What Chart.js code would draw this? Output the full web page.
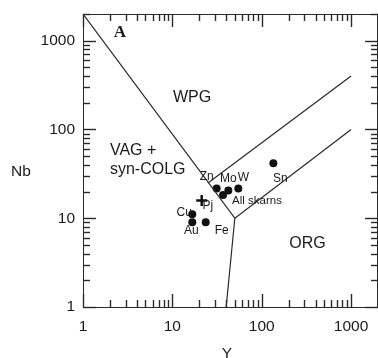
<!DOCTYPE html>
<html><head><meta charset="utf-8">
<script src="https://cdn.jsdelivr.net/npm/chart.js@4"></script>
<style>html,body{margin:0;padding:0;background:#fff;}canvas{display:block;}</style>
</head><body>
<canvas id="c" width="378" height="358"></canvas>
<script>
// ---- data ----
const samples  = ['Zn', 'Mo', 'W', 'All skarns', 'Sn', 'Cu', 'Au', 'Fe'];
const sampleY  = [31.3, 42.3, 54.7, 36.9, 135, 16.7, 16.7, 23.6];
const sampleNb = [21.7, 20.5, 21.7, 18.3, 41.6, 11.1, 9.0, 9.0];
const pjLabel = ['Pj'];
const pjY  = [21.3];
const pjNb = [15.8];
const xTickValues = [1, 10, 100, 1000];
const yTickValues = [1, 10, 100, 1000];
// field boundaries (Pearce et al. 1984)
const vagWpgY  = [1, 50, 40];
const vagWpgNb = [2000, 10, 1];
const wpgOrgY  = [25, 1000];
const wpgOrgNb = [25, 400];
const vagOrgY  = [50, 1000];
const vagOrgNb = [10, 100];
const fieldNames = ['WPG', 'VAG +', 'syn-COLG', 'ORG'];
const fieldY  = [16.6, 2.0, 2.0, 325];
const fieldNb = [226, 57.3, 35.0, 5.22];

// ---- label styling (pixel offsets from each point) ----
const sampleLabelStyle = {
  'Zn': {dx: -10, dy: -12, align: 'center'},
  'Mo': {dx: 0, dy: -12, align: 'center'},
  'W': {dx: 5, dy: -11, align: 'center'},
  'All skarns': {dx: 9, dy: 6, align: 'left'},
  'Sn': {dx: 7, dy: 15, align: 'center'},
  'Cu': {dx: -8, dy: -2, align: 'center'},
  'Au': {dx: -1, dy: 8, align: 'center'},
  'Fe': {dx: 16, dy: 8, align: 'center'},
  'Pj': {dx: 6, dy: 5, align: 'center'}
};
const fieldAlign = ['center', 'left', 'left', 'center'];

const zip = (xs, ys) => xs.map((x, i) => ({x: x, y: ys[i]}));
const LINE = '#2a2a2a';
const MINOR_FACTORS = [1, 2, 3, 4, 5, 6, 7, 8, 9];

const overlay = {
  id: 'overlay',
  afterDraw(chart) {
    const ctx = chart.ctx, xs = chart.scales.x, ys = chart.scales.y;
    const a = chart.chartArea;
    ctx.save();
    ctx.fillStyle = LINE;
    const L = Math.round(a.left), R = Math.round(a.right), T = Math.round(a.top), B = Math.round(a.bottom);
    // frame top & right
    ctx.fillRect(L, T, R - L, 1);
    ctx.fillRect(R - 1, T, 1, B - T);
    // inward ticks on all four sides
    xTickValues.forEach(d => {
      MINOR_FACTORS.forEach(m => {
        const v = d * m;
        const len = m === 1 ? 13 : 7;
        if (v <= 2000) {
          const px = Math.round(xs.getPixelForValue(v));
          ctx.fillRect(px - 0.2, B - len, 1.4, len);
          ctx.fillRect(px - 0.2, T, 1.4, len);
          const py = Math.round(ys.getPixelForValue(v));
          ctx.fillRect(L, py - 0.2, len, 1.4);
          ctx.fillRect(R - len, py - 0.2, len, 1.4);
        }
      });
    });
    ctx.fillStyle = '#1a1a1a';
    ctx.textBaseline = 'middle';
    // sample labels
    const allNames = samples.concat(pjLabel);
    const allY = sampleY.concat(pjY), allNb = sampleNb.concat(pjNb);
    allNames.forEach((n, i) => {
      const st = sampleLabelStyle[n];
      ctx.font = (n === 'All skarns' ? '11.5px' : '12px') + ' "Liberation Sans", Arial, sans-serif';
      ctx.textAlign = st.align;
      ctx.fillText(n, xs.getPixelForValue(allY[i]) + st.dx, ys.getPixelForValue(allNb[i]) + st.dy);
    });
    // field labels
    ctx.font = '16px "Liberation Sans", Arial, sans-serif';
    fieldNames.forEach((n, i) => {
      ctx.textAlign = fieldAlign[i];
      ctx.fillText(n, xs.getPixelForValue(fieldY[i]), ys.getPixelForValue(fieldNb[i]));
    });
    // panel letter
    ctx.font = 'bold 17px "Liberation Serif", "DejaVu Serif", serif';
    ctx.textAlign = 'center';
    ctx.fillText('A', a.left + 37, a.top + 19);
    // axis titles
    ctx.font = '15.5px "Liberation Sans", Arial, sans-serif';
    ctx.fillText('Nb', 21, 172);
    ctx.fillText('Y', 227, 354);
    ctx.restore();
  }
};

const tickFont = {family: '"Liberation Sans", Arial, sans-serif', size: 15.5};

new Chart(document.getElementById('c'), {
  type: 'scatter',
  data: {
    datasets: [
      {type: 'line', data: zip(vagWpgY, vagWpgNb), borderColor: LINE, borderWidth: 1.2, pointRadius: 0, pointHoverRadius: 0, fill: false, tension: 0},
      {type: 'line', data: zip(wpgOrgY, wpgOrgNb), borderColor: LINE, borderWidth: 1.2, pointRadius: 0, pointHoverRadius: 0, fill: false, tension: 0},
      {type: 'line', data: zip(vagOrgY, vagOrgNb), borderColor: LINE, borderWidth: 1.2, pointRadius: 0, pointHoverRadius: 0, fill: false, tension: 0},
      {data: zip(sampleY, sampleNb), pointRadius: 4, pointBackgroundColor: '#111', pointBorderColor: '#111', pointBorderWidth: 0},
      {data: zip(pjY, pjNb), pointStyle: 'cross', pointRadius: 5.5, pointBorderColor: '#111', pointBorderWidth: 2.5}
    ]
  },
  options: {
    responsive: false, animation: false, devicePixelRatio: 1,
    layout: {autoPadding: false, padding: {left: 0, right: 0, top: 14, bottom: 0}},
    plugins: {legend: {display: false}, tooltip: {enabled: false}},
    scales: {
      x: {
        type: 'logarithmic', min: 1, max: 2000, position: 'bottom',
        grid: {display: false, drawTicks: false},
        border: {display: true, color: LINE, width: 1},
        ticks: {font: tickFont, color: '#1a1a1a', padding: 10, autoSkip: false, maxRotation: 0, callback: v => String(v)},
        afterBuildTicks: s => { s.ticks = xTickValues.map(v => ({value: v})); },
        afterFit: s => { s.height = 51; s.paddingLeft = 0; s.paddingRight = 0; }
      },
      y: {
        type: 'logarithmic', min: 1, max: 2000, position: 'left',
        grid: {display: false, drawTicks: false},
        border: {display: true, color: LINE, width: 1},
        ticks: {font: tickFont, color: '#1a1a1a', padding: 8, autoSkip: false, callback: v => String(v)},
        afterBuildTicks: s => { s.ticks = yTickValues.map(v => ({value: v})); },
        afterFit: s => { s.width = 83; s.paddingTop = 0; s.paddingBottom = 0; }
      }
    }
  },
  plugins: [overlay]
});
</script>
</body></html>
